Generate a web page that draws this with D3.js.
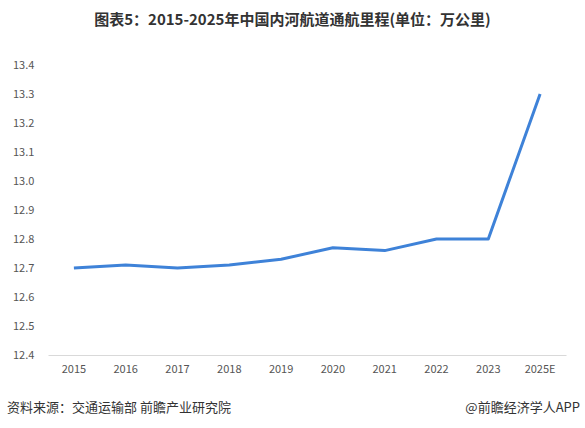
<!DOCTYPE html>
<html>
<head>
<meta charset="utf-8">
<script src="https://cdn.jsdelivr.net/npm/d3@7"></script>
<style>
  body { margin: 0; background: #fff; }
  svg { display: block; font-family: "Noto Sans CJK SC", "Microsoft YaHei", sans-serif; }
</style>
</head>
<body>
<svg></svg>
<script>
var width = 585;
var height = 428;

var margin = { left: 48, top: 65, right: 19, bottom: 73 };

// data
var years = ["2015", "2016", "2017", "2018", "2019", "2020", "2021", "2022", "2023", "2025E"];
var mileage = [12.70, 12.71, 12.70, 12.71, 12.73, 12.77, 12.76, 12.80, 12.80, 13.30];
var yTicks = [12.4, 12.5, 12.6, 12.7, 12.8, 12.9, 13.0, 13.1, 13.2, 13.3, 13.4];

var svg = d3.select("svg")
  .attr("width", width)
  .attr("height", height);

svg.append("text")
  .attr("x", width / 2)
  .attr("y", 25)
  .attr("text-anchor", "middle")
  .style("font-size", "15px")
  .style("font-weight", "bold")
  .style("fill", "#333")
  .text("图表5：2015-2025年中国内河航道通航里程(单位：万公里)");

var x = d3.scaleBand()
  .domain(years)
  .range([margin.left, width - margin.right]);

var y = d3.scaleLinear()
  .domain([12.4, 13.4])
  .range([height - margin.bottom - 0, margin.top]);

// y labels (no axis line)
svg.append("g")
  .selectAll("text")
  .data(yTicks)
  .enter()
  .append("text")
  .attr("x", 13)
  .attr("y", d => y(d) + 4)
  .style("font-size", "11px")
  .style("fill", "#555")
  .text(d => d.toFixed(1));

// x axis
var xAxis = d3.axisBottom(x).tickSize(0).tickPadding(10);
var xDraw = svg.append("g")
  .attr("transform", "translate(0," + y(12.4) + ")")
  .call(xAxis);
xDraw.select(".domain").attr("stroke", "#d9d9d9");
xDraw.selectAll("text")
  .style("font-size", "11px")
  .style("fill", "#555")
  .style("font-family", "\"Noto Sans CJK SC\", sans-serif");

// line
var line = d3.line()
  .x((d, i) => x(years[i]) + x.bandwidth() / 2)
  .y(d => y(d));

svg.append("path")
  .datum(mileage)
  .attr("d", line)
  .attr("fill", "none")
  .attr("stroke", "#3e82d8")
  .attr("stroke-width", 3)
  .attr("stroke-linejoin", "round");

// footer
svg.append("text")
  .attr("x", 7)
  .attr("y", 412)
  .style("font-size", "13px")
  .style("fill", "#333")
  .text("资料来源：交通运输部 前瞻产业研究院");

svg.append("text")
  .attr("x", 580)
  .attr("y", 412)
  .attr("text-anchor", "end")
  .style("font-size", "13px")
  .style("fill", "#333")
  .text("@前瞻经济学人APP");
</script>
</body>
</html>
